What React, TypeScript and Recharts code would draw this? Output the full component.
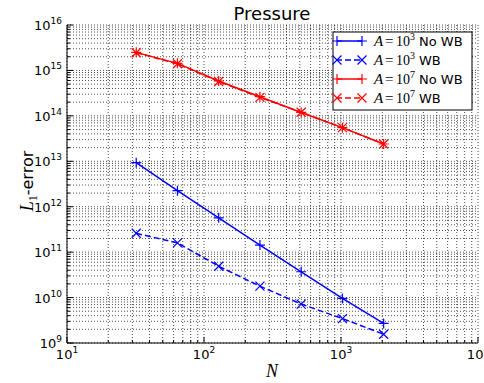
import React from 'react';
import { LineChart, Line, XAxis, YAxis, CartesianGrid } from 'recharts';

// resolution N and L1-error per case
const N = [32, 64, 128, 256, 512, 1024, 2048];
const a3NoWB = [9.3e12, 2.25e12, 5.7e11, 1.43e11, 3.7e10, 9.6e9, 2.7e9];
const a3WB = [2.6e11, 1.6e11, 4.9e10, 1.78e10, 7.2e9, 3.45e9, 1.56e9];
const a7NoWB = [2.5e15, 1.43e15, 5.85e14, 2.64e14, 1.19e14, 5.5e13, 2.4e13];
const a7WB = [2.45e15, 1.4e15, 5.7e14, 2.55e14, 1.2e14, 5.5e13, 2.4e13];

const xDecades = [10, 100, 1000];
const yDecades = [1e9, 1e10, 1e11, 1e12, 1e13, 1e14, 1e15];
const minorMult = [1, 2, 3, 4, 5, 6, 7, 8, 9];

const xTicks = [...xDecades.flatMap(d => minorMult.map(m => m * d)), 10000];
const yTicks = [...yDecades.flatMap(d => minorMult.map(m => m * d)), 1e16];

const rows = N.map((n, i) => ({ n, a3: a3NoWB[i], a3wb: a3WB[i], a7: a7NoWB[i], a7wb: a7WB[i] }));

const FONT = 'DejaVu Sans';
const MATH = 'Liberation Serif';

const isMajor = (v: number) => Math.abs(Math.log10(v) - Math.round(Math.log10(v))) < 1e-9;
const expOf = (v: number) => Math.round(Math.log10(v));

const Pow = ({ x, y, e, anchor }: any) => (
  <text x={x} y={y} textAnchor={anchor} fontFamily={FONT} fontSize={13} fill="#000">
    10<tspan dy={-6} fontSize={9}>{e}</tspan>
  </text>
);

const XTickBottom = (p: any) => {
  const v = p.payload.value;
  const maj = isMajor(v);
  return (
    <g>
      <line x1={p.x} x2={p.x} y1={p.y} y2={p.y - (maj ? 6 : 3)} stroke="#000" />
      {maj && <Pow x={p.x} y={p.y + 16} e={expOf(v)} anchor="middle" />}
    </g>
  );
};
const XTickTop = (p: any) => {
  const maj = isMajor(p.payload.value);
  return <line x1={p.x} x2={p.x} y1={p.y} y2={p.y + (maj ? 6 : 3)} stroke="#000" />;
};
const YTickLeft = (p: any) => {
  const v = p.payload.value;
  const maj = isMajor(v);
  return (
    <g>
      <line x1={p.x} x2={p.x + (maj ? 6 : 3)} y1={p.y} y2={p.y} stroke="#000" />
      {maj && <Pow x={p.x - 5} y={p.y + 5} e={expOf(v)} anchor="end" />}
    </g>
  );
};
const YTickRight = (p: any) => {
  const maj = isMajor(p.payload.value);
  return <line x1={p.x} x2={p.x - (maj ? 6 : 3)} y1={p.y} y2={p.y} stroke="#000" />;
};

const plus = (cx: number, cy: number, c: string, k: any) => (
  <path key={k} d={`M${cx - 5},${cy}h10M${cx},${cy - 5}v10`} stroke={c} strokeWidth={1.2} fill="none" />
);
const cross = (cx: number, cy: number, c: string, k: any) => (
  <path key={k} d={`M${cx - 4.5},${cy - 4.5}l9,9M${cx + 4.5},${cy - 4.5}l-9,9`} stroke={c} strokeWidth={1.2} fill="none" />
);

const legendItems = [
  { color: '#0000ff', dash: false, exp: 3, txt: 'No WB' },
  { color: '#0000ff', dash: true, exp: 3, txt: 'WB' },
  { color: '#ff0000', dash: false, exp: 7, txt: 'No WB' },
  { color: '#ff0000', dash: true, exp: 7, txt: 'WB' },
];

export default function App() {
  return (
    <div style={{ position: 'absolute', left: 0, top: 0, width: 484, height: 383, background: '#fff' }}>
      <LineChart width={484} height={383} data={rows} margin={{ top: 25, right: 6, bottom: 0, left: 0 }}>
        <CartesianGrid stroke="#000" strokeWidth={0.7} strokeDasharray="1 2" />
        <XAxis dataKey="n" type="number" scale="log" domain={[10, 10000]} ticks={xTicks} allowDataOverflow
          height={40} tickSize={0} tickMargin={0} tick={<XTickBottom />} stroke="#000" interval={0} />
        <XAxis xAxisId="t" orientation="top" type="number" scale="log" domain={[10, 10000]} ticks={xTicks}
          allowDataOverflow height={0} tickSize={0} tickMargin={0} tick={<XTickTop />} stroke="#000" interval={0} />
        <YAxis type="number" scale="log" domain={[1e9, 1e16]} ticks={yTicks} allowDataOverflow width={67}
          tickSize={0} tickMargin={0} tick={<YTickLeft />} stroke="#000" interval={0} />
        <YAxis yAxisId="r" orientation="right" type="number" scale="log" domain={[1e9, 1e16]} ticks={yTicks}
          allowDataOverflow width={0} tickSize={0} tickMargin={0} tick={<YTickRight />} stroke="#000" interval={0} />
        <Line dataKey="a3" stroke="#0000ff" strokeWidth={1.5} isAnimationActive={false}
          dot={(p: any) => plus(p.cx, p.cy, '#0000ff', p.index)} />
        <Line dataKey="a3wb" stroke="#0000ff" strokeWidth={1.5} strokeDasharray="6 3" isAnimationActive={false}
          dot={(p: any) => cross(p.cx, p.cy, '#0000ff', p.index)} />
        <Line dataKey="a7" stroke="#ff0000" strokeWidth={1.5} isAnimationActive={false}
          dot={(p: any) => plus(p.cx, p.cy, '#ff0000', p.index)} />
        <Line dataKey="a7wb" stroke="#ff0000" strokeWidth={1.5} strokeDasharray="6 3" isAnimationActive={false}
          dot={(p: any) => cross(p.cx, p.cy, '#ff0000', p.index)} />
      </LineChart>
      <svg width={484} height={383} style={{ position: 'absolute', left: 0, top: 0, pointerEvents: 'none' }}>
        <text x={272} y={20} textAnchor="middle" fontFamily={FONT} fontSize={18}>Pressure</text>
        <text x={272} y={377} textAnchor="middle" fontFamily={MATH} fontStyle="italic" fontSize={18}>N</text>
        <text transform="translate(33,181) rotate(-90)" textAnchor="middle" fontSize={16} fontFamily={FONT}>
          <tspan fontFamily={MATH} fontStyle="italic" fontSize={18}>L</tspan>
          <tspan fontFamily={MATH} fontSize={12} dy={4}>1</tspan>
          <tspan dy={-4}>-error</tspan>
        </text>
        <rect x={333} y={32} width={139} height={78} fill="#fff" stroke="#000" strokeWidth={1} />
        {legendItems.map((it, i) => {
          const y = 41 + i * 19;
          return (
            <g key={i}>
              <line x1={337} x2={362} y1={y} y2={y} stroke={it.color} strokeWidth={1.5}
                strokeDasharray={it.dash ? '6 3' : undefined} strokeDashoffset={it.dash ? -8 : 0} />
              {it.dash ? cross(337, y, it.color, 'a') : plus(337, y, it.color, 'a')}
              {it.dash ? cross(362, y, it.color, 'b') : plus(362, y, it.color, 'b')}
              <text x={374} y={y + 5} fontFamily={MATH} fontStyle="italic" fontSize={15} fill="#000">A</text>
              <text x={385} y={y + 5} fontFamily={MATH} fontSize={15} fill="#000">=</text>
              <text x={396} y={y + 5} fontFamily={MATH} fontSize={14} fill="#000">
                10<tspan fontSize={10} dy={-6}>{it.exp}</tspan>
              </text>
              <text x={419} y={y + 5} fontFamily={FONT} fontSize={13} fill="#000">{it.txt}</text>
            </g>
          );
        })}
      </svg>
    </div>
  );
}
